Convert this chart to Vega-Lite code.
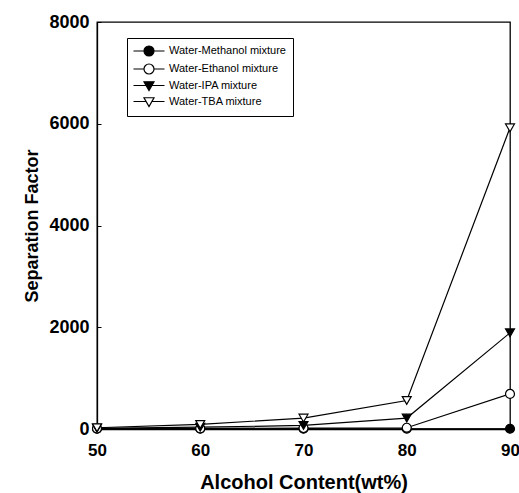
{
  "$schema": "https://vega.github.io/schema/vega-lite/v6.json",
  "autosize": "none",
  "width": 413,
  "height": 407,
  "padding": {"left": 97, "top": 22, "right": 9, "bottom": 64},
  "background": "white",
  "config": {
    "font": "Liberation Sans",
    "view": {"stroke": "black", "strokeWidth": 1.3},
    "axis": {
      "grid": false,
      "domainColor": "black",
      "domainWidth": 1.3,
      "tickColor": "black",
      "tickSize": -4,
      "labelFlush": false,
      "labelFont": "Liberation Sans",
      "labelFontSize": 18,
      "labelFontWeight": "bold",
      "labelColor": "black",
      "titleFont": "Liberation Sans",
      "titleFontWeight": "bold",
      "titleColor": "black",
      "format": "d"
    }
  },
  "data": {
    "values": [
      {"alcohol": 50, "sf": 5, "series": "Water-Methanol mixture"},
      {"alcohol": 60, "sf": 5, "series": "Water-Methanol mixture"},
      {"alcohol": 70, "sf": 5, "series": "Water-Methanol mixture"},
      {"alcohol": 80, "sf": 5, "series": "Water-Methanol mixture"},
      {"alcohol": 90, "sf": 5, "series": "Water-Methanol mixture"},
      {"alcohol": 50, "sf": 8, "series": "Water-Ethanol mixture"},
      {"alcohol": 60, "sf": 12, "series": "Water-Ethanol mixture"},
      {"alcohol": 70, "sf": 18, "series": "Water-Ethanol mixture"},
      {"alcohol": 80, "sf": 25, "series": "Water-Ethanol mixture"},
      {"alcohol": 90, "sf": 690, "series": "Water-Ethanol mixture"},
      {"alcohol": 50, "sf": 15, "series": "Water-IPA mixture"},
      {"alcohol": 60, "sf": 35, "series": "Water-IPA mixture"},
      {"alcohol": 70, "sf": 70, "series": "Water-IPA mixture"},
      {"alcohol": 80, "sf": 215, "series": "Water-IPA mixture"},
      {"alcohol": 90, "sf": 1890, "series": "Water-IPA mixture"},
      {"alcohol": 50, "sf": 25, "series": "Water-TBA mixture"},
      {"alcohol": 60, "sf": 90, "series": "Water-TBA mixture"},
      {"alcohol": 70, "sf": 215, "series": "Water-TBA mixture"},
      {"alcohol": 80, "sf": 560, "series": "Water-TBA mixture"},
      {"alcohol": 90, "sf": 5920, "series": "Water-TBA mixture"}
    ]
  },
  "encoding": {
    "x": {
      "field": "alcohol", "type": "quantitative",
      "scale": {"domain": [50, 90], "nice": false},
      "axis": {"values": [50, 60, 70, 80, 90], "title": "Alcohol Content(wt%)", "titleFontSize": 20, "titlePadding": 14, "labelPadding": 17, "labelFontSize": 17}
    },
    "y": {
      "field": "sf", "type": "quantitative",
      "scale": {"domain": [0, 8000], "nice": false},
      "axis": {"values": [0, 2000, 4000, 6000, 8000], "title": "Separation Factor", "titleFontSize": 18, "titlePadding": 7, "labelPadding": 12}
    }
  },
  "layer": [
    {
      "mark": {"type": "line", "color": "black", "strokeWidth": 1.2},
      "encoding": {"detail": {"field": "series"}}
    },
    {
      "mark": {"type": "point", "filled": true, "stroke": "black", "strokeWidth": 1.2, "size": 80, "opacity": 1},
      "encoding": {
        "shape": {
          "field": "series",
          "scale": {
            "domain": ["Water-Methanol mixture", "Water-Ethanol mixture", "Water-IPA mixture", "Water-TBA mixture"],
            "range": ["circle", "circle", "triangle-down", "triangle-down"]
          },
          "legend": null
        },
        "fill": {
          "field": "series",
          "scale": {
            "domain": ["Water-Methanol mixture", "Water-Ethanol mixture", "Water-IPA mixture", "Water-TBA mixture"],
            "range": ["black", "white", "black", "white"]
          },
          "legend": null
        }
      }
    },
    {
      "transform": [{"filter": "datum.sf < 0"}],
      "mark": {"type": "point", "filled": true, "stroke": "black", "strokeWidth": 1.2, "size": 100},
      "encoding": {
        "shape": {
          "field": "series",
          "scale": {
            "domain": ["Water-Methanol mixture", "Water-Ethanol mixture", "Water-IPA mixture", "Water-TBA mixture"],
            "range": [
              "M-1,0A1,1 0 1,1 1,0A1,1 0 1,1 -1,0Z M-3.1,0H-1 M1,0H3.1",
              "M-1,0A1,1 0 1,1 1,0A1,1 0 1,1 -1,0Z M-3.1,0H-1 M1,0H3.1",
              "M-1,-0.85L1,-0.85L0,0.9Z M-3.1,-0.1H-0.5 M0.5,-0.1H3.1",
              "M-1,-0.85L1,-0.85L0,0.9Z M-3.1,-0.1H-0.5 M0.5,-0.1H3.1"
            ]
          },
          "legend": {
            "title": null,
            "orient": "none",
            "legendX": 30,
            "legendY": 16,
            "strokeColor": "black",
            "padding": 7,
            "symbolSize": 100,
            "symbolStrokeWidth": 1.2,
            "symbolOpacity": 1,
            "labelFontSize": 11,
            "labelFont": "Liberation Sans",
            "labelColor": "black",
            "labelOffset": 14,
            "rowPadding": 2,
            "symbolOffset": 9
          }
        },
        "fill": {
          "field": "series",
          "scale": {
            "domain": ["Water-Methanol mixture", "Water-Ethanol mixture", "Water-IPA mixture", "Water-TBA mixture"],
            "range": ["black", "white", "black", "white"]
          },
          "legend": null
        }
      }
    }
  ],
  "resolve": {"scale": {"shape": "independent", "fill": "independent"}}
}
